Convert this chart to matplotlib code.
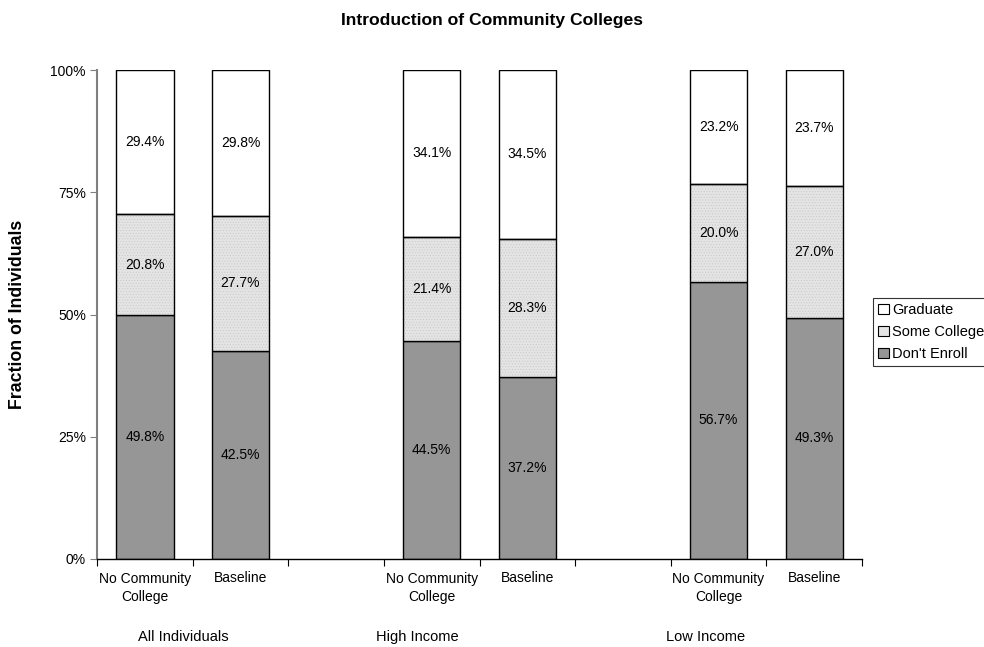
import matplotlib
matplotlib.use("Agg")
import matplotlib.pyplot as plt
from matplotlib.patches import Patch
import matplotlib.transforms as mtransforms
import numpy as np

plt.rcParams['font.family'] = ['Liberation Sans', 'DejaVu Sans']
plt.rcParams['hatch.linewidth'] = 0.4

# Bar slots: two scenarios per group, with an empty slot between groups
bar_labels = ["No Community\nCollege", "Baseline", "", "No Community\nCollege", "Baseline", "", "No Community\nCollege", "Baseline"]
group_labels = ["All Individuals", "High Income", "Low Income"]
series_names = ["Graduate", "Some College", "Don't Enroll"]

dont_enroll = [49.8, 42.5, None, 44.5, 37.2, None, 56.7, 49.3]
some_college = [20.8, 27.7, None, 21.4, 28.3, None, 20.0, 27.0]
graduate = [29.4, 29.8, None, 34.1, 34.5, None, 23.2, 23.7]

fig = plt.figure(figsize=(9.84, 6.47), dpi=100)
ax = fig.add_axes([97/984, 1-559/647, (862-97)/984, (559-70)/647])

x_idx = [i for i, v in enumerate(dont_enroll) if v is not None]
x = np.array(x_idx) + 0.5
de = np.array([dont_enroll[i] for i in x_idx])
sc = np.array([some_college[i] for i in x_idx])
gr = np.array([graduate[i] for i in x_idx])

w = 0.6
ax.bar(x, de, width=w, color='#969696', edgecolor='black', linewidth=1.0, zorder=2)
ax.bar(x, sc, width=w, bottom=de, color='#e4e4e4', edgecolor='#c8c8c8', hatch='......', linewidth=0, zorder=2)
ax.bar(x, sc, width=w, bottom=de, fill=False, edgecolor='black', linewidth=1.0, zorder=3)
ax.bar(x, gr, width=w, bottom=de + sc, color='white', edgecolor='black', linewidth=1.0, zorder=2)

for xi, a, b, c in zip(x, de, sc, gr):
    ax.text(xi, a / 2, f"{a:.1f}%", ha='center', va='center', fontsize=10, zorder=4)
    ax.text(xi, a + b / 2, f"{b:.1f}%", ha='center', va='center', fontsize=10, zorder=4)
    ax.text(xi, a + b + c / 2, f"{c:.1f}%", ha='center', va='center', fontsize=10, zorder=4)

ax.set_xlim(0, len(bar_labels))
ax.set_ylim(0, 100)
ax.set_yticks([0, 25, 50, 75, 100])
ax.set_yticklabels(["0%", "25%", "50%", "75%", "100%"], fontsize=10)
ax.set_xticks(np.arange(0, len(bar_labels) + 1))
ax.set_xticklabels([])
ax.set_xticks(np.arange(len(bar_labels)) + 0.5, minor=True)
ax.set_xticklabels(bar_labels, minor=True, fontsize=10, linespacing=1.4)
ax.tick_params(axis='x', which='minor', length=0, pad=9)
ax.tick_params(axis='x', which='major', length=5, direction='out', color='black')
ax.tick_params(axis='y', length=5, direction='out', color='#808080', pad=3)

for s in ['top', 'right']:
    ax.spines[s].set_visible(False)
ax.spines['left'].set_color('#808080')
ax.spines['left'].set_linewidth(1.5)
ax.spines['bottom'].set_color('black')
ax.spines['bottom'].set_linewidth(1.0)

group_tr = mtransforms.blended_transform_factory(ax.transData, fig.transFigure)
group_x = [0.90, 3.35, 6.36]
for gx, gl in zip(group_x, group_labels):
    ax.text(gx, 1 - 637/647, gl, transform=group_tr, ha='center', va='center', fontsize=10.5)

fig.text(0.5, 1 - 20/647, "Introduction of Community Colleges", ha='center', va='center',
         fontsize=12.6, fontweight='bold')
fig.text(18/984, 1 - 314/647, "Fraction of Individuals", ha='center', va='center',
         rotation=90, fontsize=12.8, fontweight='bold')

handles = [
    Patch(facecolor='white', edgecolor='black', linewidth=0.8, label=series_names[0]),
    Patch(facecolor='#e4e4e4', edgecolor='black', linewidth=0.8, label=series_names[1]),
    Patch(facecolor='#969696', edgecolor='black', linewidth=0.8, label=series_names[2]),
]
leg = fig.legend(handles=handles, loc='upper left', bbox_to_anchor=(873/984, 1 - 298/647),
                 fontsize=10.5, frameon=True, fancybox=False, edgecolor='black',
                 handlelength=0.75, handleheight=0.75, handletextpad=0.2,
                 borderpad=0.35, labelspacing=0.55, borderaxespad=0)
leg.get_frame().set_linewidth(0.8)

fig.savefig("out.png", dpi=100)
